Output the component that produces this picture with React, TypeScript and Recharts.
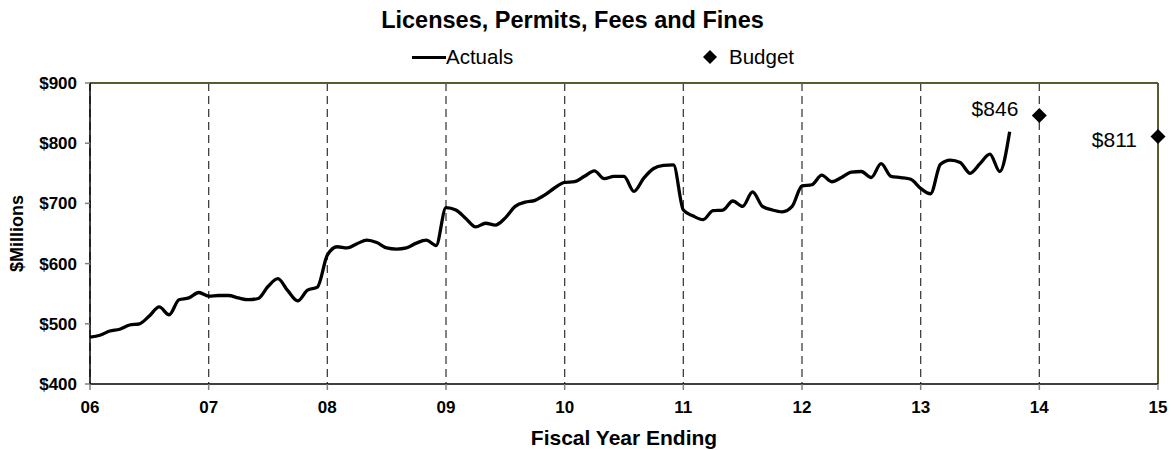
import React from 'react';
import {
  ComposedChart,
  Line,
  Scatter,
  XAxis,
  YAxis,
  CartesianGrid,
  ReferenceLine,
} from 'recharts';

// Monthly actuals, FY06 through mid FY13 ($ millions)
const actuals = [
  478, 481, 488, 491, 498, 500, 513, 528, 515, 540, 543, 552,
  546, 547, 547, 543, 540, 542, 562, 575, 555, 538, 556, 561,
  614, 628, 626, 633, 639, 635, 626, 624, 626, 634, 639, 630,
  693, 689, 675, 661, 667, 664, 676, 695, 702, 705, 714, 726,
  735, 736, 745, 754, 741, 745, 745, 720, 742, 758, 763, 764,
  689, 679, 673, 688, 689, 704, 695, 719, 695, 689, 686, 695,
  729, 731, 747, 736, 743, 752, 753, 743, 766, 745, 743, 740,
  725, 716, 765, 772, 768, 750, 766, 782, 753, 819,
];

const budgetYears = [14, 15];
const budgetValues = [846, 811];

const yearTicks = [6, 7, 8, 9, 10, 11, 12, 13, 14, 15];
const valueTicks = [400, 500, 600, 700, 800, 900];

const actualData = actuals.map((v, i) => ({ year: 6 + i / 12, actual: v }));
const budgetData = budgetYears.map((y, i) => ({ year: y, budget: budgetValues[i] }));

const FONT = '"Liberation Sans", Arial, sans-serif';
const FRAME = '#5a5a32';

const BudgetMark = (props: any) => {
  const { cx, cy, payload } = props;
  const r = 7.5;
  const dy = payload.year === 14 ? -7 : 3;
  return (
    <g>
      <path
        d={`M${cx},${cy - r} L${cx + r},${cy} L${cx},${cy + r} L${cx - r},${cy} Z`}
        fill="#000"
      />
      <text
        x={cx - 21}
        y={cy + dy}
        textAnchor="end"
        dominantBaseline="central"
        fontFamily={FONT}
        fontSize={21}
        fill="#000"
      >
        ${payload.budget}
      </text>
    </g>
  );
};

export default function App() {
  return (
    <div
      style={{
        position: 'absolute',
        left: 0,
        top: 0,
        width: 1171,
        height: 450,
        background: '#fff',
        fontFamily: FONT,
      }}
    >
      <div
        style={{
          position: 'absolute',
          left: 0,
          width: 1171,
          top: 5,
          paddingRight: 26,
          boxSizing: 'border-box',
          textAlign: 'center',
          fontSize: 23.5,
          fontWeight: 'bold',
          lineHeight: '30px',
        }}
      >
        Licenses, Permits, Fees and Fines
      </div>

      {/* legend */}
      <div style={{ position: 'absolute', left: 412, top: 56, width: 34, height: 3, background: '#000' }} />
      <div style={{ position: 'absolute', left: 446, top: 45, fontSize: 20.5, lineHeight: '24px' }}>
        Actuals
      </div>
      <svg style={{ position: 'absolute', left: 703, top: 50 }} width={14} height={14}>
        <path d="M7,0 L14,7 L7,14 L0,7 Z" fill="#000" />
      </svg>
      <div style={{ position: 'absolute', left: 729, top: 45, fontSize: 20.5, lineHeight: '24px' }}>
        Budget
      </div>

      <ComposedChart
        width={1171}
        height={450}
        margin={{ top: 83, right: 13, bottom: 0, left: 0 }}
      >
        <CartesianGrid
          horizontal={false}
          stroke="#404040"
          strokeWidth={1.3}
          strokeDasharray="8 5"
        />
        <XAxis
          dataKey="year"
          type="number"
          domain={[6, 15]}
          ticks={yearTicks}
          height={66}
          stroke="#000"
          strokeWidth={1.5}
          tickLine={{ stroke: '#808080' }}
          tickSize={6}
          tickMargin={11}
          tick={{ fill: '#000', fontSize: 17, fontWeight: 'bold', fontFamily: FONT }}
          tickFormatter={(v: number) => String(v).padStart(2, '0')}
          label={{
            value: 'Fiscal Year Ending',
            position: 'insideBottom',
            offset: 5,
            style: { fill: '#000', fontSize: 21, fontWeight: 'bold', fontFamily: FONT },
          }}
        />
        <YAxis
          type="number"
          domain={[400, 900]}
          ticks={valueTicks}
          width={90}
          stroke="#000"
          strokeWidth={1.5}
          tickLine={{ stroke: '#808080' }}
          tickSize={5}
          tickMargin={8}
          tick={{ fill: '#000', fontSize: 17, fontWeight: 'bold', fontFamily: FONT }}
          tickFormatter={(v: number) => `$${v}`}
          label={{
            value: '$Millions',
            angle: -90,
            position: 'insideLeft',
            offset: 17,
            style: { textAnchor: 'middle', fill: '#000', fontSize: 18, fontWeight: 'bold', fontFamily: FONT },
          }}
        />
        <ReferenceLine y={900} stroke={FRAME} strokeWidth={2} />
        <ReferenceLine x={15} stroke={FRAME} strokeWidth={2} />
        <Line
          data={actualData}
          dataKey="actual"
          type="monotone"
          stroke="#000"
          strokeWidth={3.3}
          dot={false}
          isAnimationActive={false}
        />
        <Scatter
          data={budgetData}
          dataKey="budget"
          shape={BudgetMark}
          isAnimationActive={false}
        />
      </ComposedChart>
    </div>
  );
}
